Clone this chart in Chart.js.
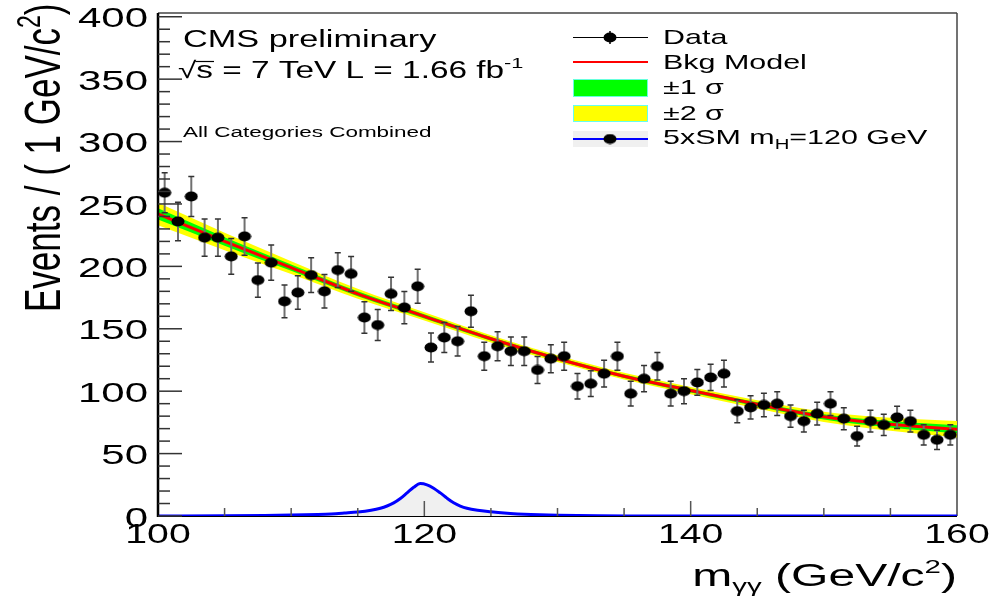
<!DOCTYPE html>
<html>
<head>
<meta charset="utf-8">
<script src="https://cdn.jsdelivr.net/npm/chart.js@4.4.0/dist/chart.umd.min.js"></script>
<style>
  html, body { margin: 0; padding: 0; background: #fff; }
  canvas { display: block; }
</style>
</head>
<body>
<canvas id="mgg" width="1006" height="598"></canvas>
<script>
// diphoton mass bins (1 GeV wide), bin centres
const massBins = [100.5, 101.5, 102.5, 103.5, 104.5, 105.5, 106.5, 107.5, 108.5, 109.5,
                  110.5, 111.5, 112.5, 113.5, 114.5, 115.5, 116.5, 117.5, 118.5, 119.5,
                  120.5, 121.5, 122.5, 123.5, 124.5, 125.5, 126.5, 127.5, 128.5, 129.5,
                  130.5, 131.5, 132.5, 133.5, 134.5, 135.5, 136.5, 137.5, 138.5, 139.5,
                  140.5, 141.5, 142.5, 143.5, 144.5, 145.5, 146.5, 147.5, 148.5, 149.5,
                  150.5, 151.5, 152.5, 153.5, 154.5, 155.5, 156.5, 157.5, 158.5, 159.5];
const events = [259, 236, 256, 223, 223, 208, 224, 189, 203, 172,
                179, 193, 180, 197, 194, 159, 153, 178, 167, 184,
                135, 143, 140, 164, 128, 136, 132, 132, 117, 126,
                128, 104, 106, 114, 128, 98, 110, 120, 98, 100,
                107, 111, 114, 84, 87, 89, 90, 80, 76, 82,
                90, 78, 64, 76, 73, 79, 76, 65, 61, 65];
const eventErrors = [16.1, 15.4, 16.0, 14.9, 14.9, 14.4, 15.0, 13.7, 14.2, 13.1,
                     13.4, 13.9, 13.4, 14.0, 13.9, 12.6, 12.4, 13.3, 12.9, 13.6,
                     11.6, 12.0, 11.8, 12.8, 11.3, 11.7, 11.5, 11.5, 10.8, 11.2,
                     11.3, 10.2, 10.3, 10.7, 11.3, 9.9, 10.5, 11.0, 9.9, 10.0,
                     10.3, 10.5, 10.7, 9.2, 9.3, 9.4, 9.5, 8.9, 8.7, 9.1,
                     9.5, 8.8, 8.0, 8.7, 8.5, 8.9, 8.7, 8.1, 7.8, 8.1];

// background model and its uncertainty bands
const fitMass  = [100, 105, 110, 115, 120, 125, 130, 135, 140, 145, 150, 155, 160];
const bkgModel = [242, 220, 199, 178, 160, 142, 126, 112, 100.5, 89.5, 79.5, 73.5, 69.5];
const band1    = [4.5, 3.4, 2.6, 2.0, 1.7, 1.5, 1.4, 1.4, 1.5, 1.7, 2.1, 2.6, 3.3];
const band2    = [9.0, 7.0, 5.2, 4.0, 3.3, 2.9, 2.7, 2.7, 2.9, 3.3, 4.1, 5.2, 6.6];

// 5 x SM signal, mH = 120 GeV
const signalMass = [100, 105, 108, 110, 112, 113, 114, 115, 116, 116.7, 117.2, 117.7, 118.2, 118.7,
                    119.2, 119.7, 120.2, 120.7, 121.2, 121.7, 122.2, 122.7, 123.2, 124, 125, 126,
                    127, 128, 130, 133, 136, 140, 160];
const signal5xSM = [0, 0.2, 0.5, 0.8, 1.3, 1.7, 2.4, 3.2, 4.6, 6.2, 8.0, 10.5, 14.0, 18.5,
                    23.0, 26.0, 25.0, 22.3, 18.5, 14.3, 10.6, 8.0, 6.2, 4.6, 3.4, 2.4,
                    1.7, 1.2, 0.6, 0.2, 0.05, 0, 0];

const yTicks = [0, 50, 100, 150, 200, 250, 300, 350, 400];
const xTicks = [100, 120, 140, 160];

const FONT = '"Liberation Sans", Arial, Helvetica, sans-serif';

// black elliptic marker like ROOT's full circle in a stretched picture
const dot = document.createElement('canvas');
dot.width = 14; dot.height = 11;
(function() {
  const d = dot.getContext('2d');
  d.fillStyle = '#000';
  d.beginPath();
  d.ellipse(7, 5.5, 6.5, 4.9, 0, 0, 2 * Math.PI);
  d.fill();
})();

function pts(xs, ys) { return xs.map((v, i) => ({ x: v, y: ys[i] })); }

function richWidth(ctx, pieces, sx) {
  let w = 0;
  pieces.forEach(p => {
    ctx.font = p[1] + 'px ' + FONT;
    w += ctx.measureText(p[0]).width * sx;
  });
  return w;
}

// pieces: [text, size, dy]
function richText(ctx, pieces, x, y, sx) {
  let cx = x;
  pieces.forEach(p => {
    ctx.save();
    ctx.font = p[1] + 'px ' + FONT;
    ctx.textAlign = 'left';
    ctx.textBaseline = 'alphabetic';
    ctx.fillStyle = '#000';
    ctx.translate(cx, y + (p[2] || 0));
    ctx.scale(sx, 1);
    ctx.fillText(p[0], 0, 0);
    cx += ctx.measureText(p[0]).width * sx;
    ctx.restore();
  });
  return cx;
}

function stretchText(ctx, text, x, y, size, sx, align, baseline) {
  ctx.save();
  ctx.font = size + 'px ' + FONT;
  ctx.textAlign = align || 'left';
  ctx.textBaseline = baseline || 'alphabetic';
  ctx.fillStyle = '#000';
  ctx.translate(x, y);
  ctx.scale(sx, 1);
  ctx.fillText(text, 0, 0);
  ctx.restore();
}

function line(ctx, x1, y1, x2, y2, color, w) {
  ctx.strokeStyle = color;
  ctx.lineWidth = w;
  ctx.beginPath();
  ctx.moveTo(x1, y1);
  ctx.lineTo(x2, y2);
  ctx.stroke();
}

const decorations = {
  id: 'decorations',
  beforeDatasetsDraw(chart) {
    const { ctx, chartArea: a } = chart;
    ctx.save();
    line(ctx, a.left, a.top, a.right, a.top, '#444', 1.5);
    line(ctx, a.right, a.top, a.right, a.bottom, '#444', 1.5);
    line(ctx, a.left, a.bottom, a.right, a.bottom, '#000', 2);
    ctx.restore();
  },
  beforeDatasetDraw(chart, args) {
    if (args.index !== 0) return;
    const { ctx, scales: { x, y } } = chart;
    ctx.save();
    massBins.forEach((m, i) => {
      const px = x.getPixelForValue(m);
      const top = y.getPixelForValue(events[i] + eventErrors[i]);
      const bot = y.getPixelForValue(events[i] - eventErrors[i]);
      line(ctx, px, top, px, bot, '#707070', 2);
      ctx.strokeStyle = '#333';
      ctx.lineWidth = 1.5;
      ctx.beginPath();
      ctx.moveTo(px - 3, top); ctx.lineTo(px + 3, top);
      ctx.moveTo(px - 3, bot); ctx.lineTo(px + 3, bot);
      ctx.stroke();
    });
    ctx.restore();
  },
  afterDraw(chart) {
    const { ctx, chartArea: a, scales: { x, y } } = chart;
    ctx.save();

    // left axis
    line(ctx, a.left, a.top, a.left, a.bottom + 1, '#000', 2.5);

    // y ticks (inside), minor every 10
    for (let v = 0; v <= 400; v += 10) {
      const py = y.getPixelForValue(v);
      const len = v % 50 === 0 ? 24 : 12;
      line(ctx, a.left, py, a.left + len, py, '#333', 1.5);
    }
    // x ticks (inside), minor every 5
    for (let v = 105; v < 160; v += 5) {
      const px = x.getPixelForValue(v);
      const len = v % 20 === 0 ? 15 : 8;
      line(ctx, px, a.bottom, px, a.bottom - len, '#555', 1.5);
    }

    // tick labels
    yTicks.forEach(v => {
      stretchText(ctx, String(v), a.left - 10, y.getPixelForValue(v) + 3, 28, 1.5, 'right', 'middle');
    });
    xTicks.forEach(v => {
      stretchText(ctx, String(v), x.getPixelForValue(v), 543, 28, 1.4, 'center', 'alphabetic');
    });

    // axis titles
    const xt = [['m', 31, 0], ['\u03b3\u03b3', 19, 6], [' (GeV/c', 31, 0], ['2', 19, -13], [')', 31, 0]];
    const xsx = 1.55;
    richText(ctx, xt, a.right - richWidth(ctx, xt, xsx), 586, xsx);

    ctx.save();
    ctx.translate(60, 312);
    ctx.rotate(-Math.PI / 2);
    ctx.scale(1, 1.45);
    richText(ctx, [['Events / ( 1 GeV/c', 35, 0], ['2', 23, -14], [')', 35, 0]], 0, 0, 1);
    ctx.restore();

    // annotations
    stretchText(ctx, 'CMS preliminary', 183, 47, 23, 1.49);
    const x1 = richText(ctx, [['\u221a', 23, 0]], 178, 78, 1.45);
    const x2 = richText(ctx, [['s', 23, 0]], x1, 78, 1.45);
    line(ctx, x1 - 1, 61.5, x2 + 1, 61.5, '#000', 1.2);
    richText(ctx, [[' = 7 TeV L = 1.66 fb', 23, 0], ['-1', 15, -10]], x2, 78, 1.45);
    stretchText(ctx, 'All Categories Combined', 183, 137, 15.5, 1.45);

    // legend
    const lx0 = 573, lx1 = 648, lxc = 610, tx = 663;
    line(ctx, lx0, 37.5, lx1, 37.5, '#000', 1.2);
    line(ctx, lxc, 31, lxc, 44, '#000', 1.5);
    ctx.drawImage(dot, lxc - 7, 37.5 - 5.5);
    stretchText(ctx, 'Data', tx, 44, 21, 1.45);

    line(ctx, lx0, 62, lx1, 62, '#ff0000', 2);
    stretchText(ctx, 'Bkg Model', tx, 68.5, 21, 1.45);

    ctx.fillStyle = '#00ff00';
    ctx.fillRect(lx0, 79, lx1 - lx0, 18);
    ctx.strokeStyle = '#66ffdd';
    ctx.lineWidth = 1;
    ctx.strokeRect(lx0 + 0.5, 79.5, lx1 - lx0 - 1, 17);
    stretchText(ctx, '\u00b11 \u03c3', tx, 94, 21, 1.45);

    ctx.fillStyle = '#ffff00';
    ctx.fillRect(lx0, 105, lx1 - lx0, 17);
    ctx.strokeStyle = '#66ffee';
    ctx.strokeRect(lx0 + 0.5, 105.5, lx1 - lx0 - 1, 16);
    stretchText(ctx, '\u00b12 \u03c3', tx, 119.5, 21, 1.45);

    ctx.fillStyle = '#f0f0f0';
    ctx.fillRect(lx0, 131, lx1 - lx0, 16);
    line(ctx, lx0, 139, lx1, 139, '#0000ff', 2);
    ctx.drawImage(dot, lxc - 7, 139 - 5.5);
    richText(ctx, [['5xSM m', 21, 0], ['H', 14, 5], ['=120 GeV', 21, 0]], tx, 144, 1.45);

    ctx.restore();
  }
};

new Chart(document.getElementById('mgg'), {
  type: 'scatter',
  data: {
    datasets: [
      {
        label: 'Data',
        data: pts(massBins, events),
        pointStyle: dot,
        showLine: false
      },
      {
        label: '5xSM mH=120 GeV',
        data: pts(signalMass, signal5xSM),
        showLine: true,
        borderColor: '#0000ff',
        borderWidth: 3,
        pointRadius: 0,
        fill: 'origin',
        backgroundColor: '#f0f0f0',
        cubicInterpolationMode: 'monotone'
      },
      {
        label: 'Bkg Model',
        data: pts(fitMass, bkgModel),
        showLine: true,
        borderColor: '#ff0000',
        borderWidth: 3,
        pointRadius: 0,
        cubicInterpolationMode: 'monotone'
      },
      {
        label: '+1 sigma',
        data: pts(fitMass, bkgModel.map((v, i) => v + band1[i])),
        showLine: true, borderWidth: 0, borderColor: 'rgba(0,0,0,0)', pointRadius: 0,
        fill: 4, backgroundColor: '#00ff00',
        cubicInterpolationMode: 'monotone'
      },
      {
        label: '-1 sigma',
        data: pts(fitMass, bkgModel.map((v, i) => v - band1[i])),
        showLine: true, borderWidth: 0, borderColor: 'rgba(0,0,0,0)', pointRadius: 0,
        cubicInterpolationMode: 'monotone'
      },
      {
        label: '+2 sigma',
        data: pts(fitMass, bkgModel.map((v, i) => v + band2[i])),
        showLine: true, borderWidth: 0, borderColor: 'rgba(0,0,0,0)', pointRadius: 0,
        fill: 6, backgroundColor: '#ffff00',
        cubicInterpolationMode: 'monotone'
      },
      {
        label: '-2 sigma',
        data: pts(fitMass, bkgModel.map((v, i) => v - band2[i])),
        showLine: true, borderWidth: 0, borderColor: 'rgba(0,0,0,0)', pointRadius: 0,
        cubicInterpolationMode: 'monotone'
      }
    ]
  },
  options: {
    responsive: false,
    animation: false,
    events: [],
    layout: { padding: { left: 158, right: 49, top: 13, bottom: 82 } },
    scales: {
      x: { type: 'linear', min: 100, max: 160, display: false },
      y: { type: 'linear', min: 0, max: 403, display: false }
    },
    plugins: {
      legend: { display: false },
      tooltip: { enabled: false }
    }
  },
  plugins: [decorations]
});
</script>
</body>
</html>
